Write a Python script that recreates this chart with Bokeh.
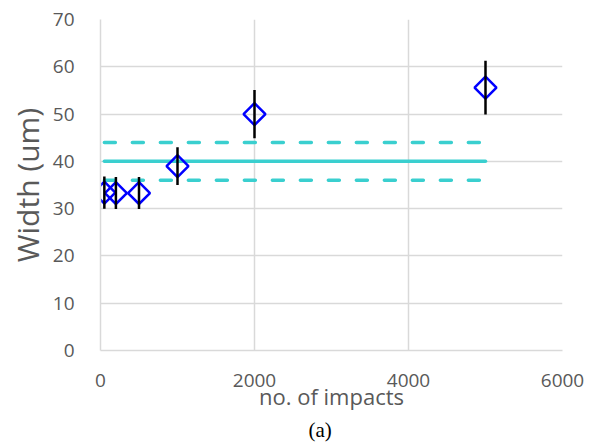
import math
from bokeh.plotting import figure
from bokeh.models import Range1d, FixedTicker, Title, ColumnDataSource
from bokeh.embed import file_html
from bokeh.resources import INLINE

# data
impacts = [50, 200, 500, 1000, 2000, 5000]
width_um = [33.4, 33.3, 33.3, 39.0, 50.0, 55.6]
width_err = [3.4, 3.4, 3.4, 4.0, 5.1, 5.7]
ref_x = [50, 5000]
ref_mean = [40, 40]
ref_upper = [44, 44]
ref_lower = [36, 36]
x_ticks = [0, 2000, 4000, 6000]
y_ticks = [0, 10, 20, 30, 40, 50, 60, 70]

p = figure(width=590, height=448, output_backend="svg", toolbar_location=None,
           x_range=Range1d(0, 6000), y_range=Range1d(0, 70),
           min_border_left=100, min_border_right=28, min_border_top=19, min_border_bottom=98)
p.outline_line_color = None
p.background_fill_color = "white"
p.border_fill_color = "white"

FONT = "Open Sans"
for ax in (p.xaxis[0], p.yaxis[0]):
    ax.axis_line_color = "#D9D9D9"
    ax.axis_line_width = 1.5
    ax.major_tick_line_color = None
    ax.minor_tick_line_color = None
    ax.major_label_text_color = "#595959"
    ax.major_label_text_font = FONT
    ax.major_label_text_font_size = "19px"
    ax.axis_label_text_color = "#595959"
    ax.axis_label_text_font = FONT
    ax.axis_label_text_font_style = "normal"

p.xaxis.ticker = FixedTicker(ticks=x_ticks)
p.yaxis.ticker = FixedTicker(ticks=y_ticks)
p.xaxis.major_label_standoff = 17
p.yaxis.major_label_standoff = 20
p.xaxis.axis_label = "no. of impacts"
p.xaxis.axis_label_text_font_size = "22px"
p.xaxis.axis_label_standoff = -9
p.yaxis.axis_label = "Width (um)"
p.yaxis.axis_label_text_font_size = "30px"
p.yaxis.axis_label_standoff = 2

p.xgrid.ticker = FixedTicker(ticks=x_ticks)
p.ygrid.ticker = FixedTicker(ticks=y_ticks)
p.grid.grid_line_color = "#D9D9D9"
p.grid.grid_line_width = 1.5

cyan = "#3ACFCF"
p.line(ref_x, ref_mean, line_color=cyan, line_width=3.5, line_cap="round")
p.line(ref_x, ref_upper, line_color=cyan, line_width=3.5, line_cap="round", line_dash="11 17")
p.line(ref_x, ref_lower, line_color=cyan, line_width=3.5, line_cap="round", line_dash="11 17")

src = ColumnDataSource(dict(
    x=impacts, y=width_um,
    lo=[v - e for v, e in zip(width_um, width_err)],
    hi=[v + e for v, e in zip(width_um, width_err)],
))
p.scatter("x", "y", source=src, marker="square", angle=math.pi / 4, size=15.5,
          fill_color=None, line_color="#0000FF", line_width=2.5)
p.segment(x0="x", y0="lo", x1="x", y1="hi", source=src, line_color="black", line_width=2.5)

cap = Title(text="(a)", align="left", vertical_align="top", text_font="Liberation Serif",
            text_font_size="21px", text_font_style="normal", text_color="black",
            offset=208, standoff=9)
p.add_layout(cap, "below")

open("out.html", "w").write(file_html(p, INLINE))
